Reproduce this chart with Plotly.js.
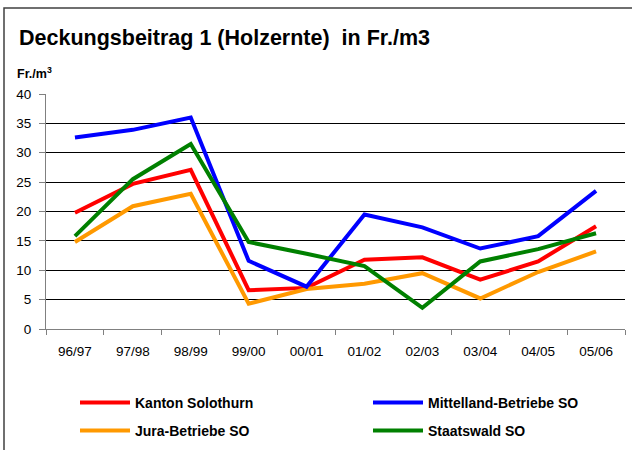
<!DOCTYPE html>
<html>
<head>
<meta charset="utf-8">
<script src="https://cdn.plot.ly/plotly-3.0.1.min.js"></script>
<style>
  html, body { margin: 0; padding: 0; background: #fff; }
  #chart { width: 632px; height: 450px; }
</style>
</head>
<body>
<div id="chart"></div>
<script>
const years = ["96/97","97/98","98/99","99/00","00/01","01/02","02/03","03/04","04/05","05/06"];
const kantonSolothurn = [19.8, 24.7, 27.1, 6.6, 7.0, 11.8, 12.2, 8.4, 11.5, 17.5];
const mittellandBetriebe = [32.6, 33.9, 36.0, 11.6, 7.2, 19.5, 17.3, 13.7, 15.8, 23.5];
const juraBetriebe = [14.8, 20.9, 23.0, 4.3, 6.8, 7.7, 9.5, 5.2, 9.7, 13.2];
const staatswald = [15.8, 25.5, 31.5, 14.8, 12.8, 10.7, 3.6, 11.5, 13.6, 16.3];
const yTicks = [0, 5, 10, 15, 20, 25, 30, 35, 40];

const L = 46, R = 7, T = 94, B = 121, W = 632, H = 450;
const pw = W - L - R, ph = H - T - B;
const px = x => (x - L) / pw;
const py = y => (H - B - y) / ph;

function tr(name, y, color, legend) {
  return {
    type: 'scatter', mode: 'lines', name: name, x: years, y: y,
    line: { color: color, width: 4 }, legend: legend
  };
}

const data = [
  tr('Kanton Solothurn', kantonSolothurn, '#FF0000', 'legend'),
  tr('Jura-Betriebe SO', juraBetriebe, '#FF9900', 'legend2'),
  tr('Mittelland-Betriebe SO', mittellandBetriebe, '#0000FF', 'legend3'),
  tr('Staatswald SO', staatswald, '#008000', 'legend4')
];

const legendFont = { family: 'Liberation Sans, Arial, sans-serif', size: 14, color: '#000', weight: 'bold' };
const legendBase = {
  orientation: 'h', xanchor: 'left', yanchor: 'middle',
  itemwidth: 50,
  font: legendFont, bgcolor: 'rgba(0,0,0,0)', borderwidth: 0,
  itemclick: false, itemdoubleclick: false
};
const col1 = 75, col2 = 368, row1 = 403, row2 = 431;

const layout = {
  width: W, height: H,
  margin: { l: L, r: R, t: T, b: B, pad: 0, autoexpand: false },
  paper_bgcolor: '#fff', plot_bgcolor: '#fff',
  font: { family: 'Liberation Sans, Arial, sans-serif', size: 13, color: '#000' },
  showlegend: true,
  title: {
    text: 'Deckungsbeitrag 1 (Holzernte) \u00a0in Fr./m3',
    font: { family: 'Liberation Sans, Arial, sans-serif', size: 21.5, color: '#000', weight: 'bold' },
    x: 19 / W, xanchor: 'left', xref: 'container',
    y: 1 - 37 / H, yanchor: 'middle', yref: 'container'
  },
  xaxis: {
    type: 'category', categoryorder: 'array', categoryarray: years,
    range: [-0.5, 9.5], fixedrange: true,
    showgrid: false, zeroline: false,
    showline: true, linecolor: '#808080', linewidth: 1,
    ticks: 'outside', tickson: 'boundaries', ticklen: 5, tickcolor: '#808080', tickwidth: 1,
    ticklabelstandoff: 10,
    tickfont: { size: 13.5, color: '#000' }
  },
  yaxis: {
    range: [0, 40], tickvals: yTicks, ticktext: yTicks.map(String), fixedrange: true,
    showgrid: true, gridcolor: '#000', gridwidth: 1, zeroline: false,
    showline: true, linecolor: '#808080', linewidth: 1,
    ticks: 'outside', ticklen: 6, tickcolor: '#808080', tickwidth: 1,
    ticklabelstandoff: 5,
    tickfont: { size: 13.5, color: '#000' }
  },
  legend: Object.assign({}, legendBase, { x: px(col1), y: py(row1) }),
  legend2: Object.assign({}, legendBase, { x: px(col1), y: py(row2) }),
  legend3: Object.assign({}, legendBase, { x: px(col2), y: py(row1) }),
  legend4: Object.assign({}, legendBase, { x: px(col2), y: py(row2) }),
  annotations: [{
    text: 'Fr./m<sup>3</sup>', xref: 'paper', yref: 'paper',
    x: px(15), y: py(73), xanchor: 'left', yanchor: 'middle', showarrow: false,
    font: { family: 'Liberation Sans, Arial, sans-serif', size: 12.5, color: '#000', weight: 'bold' }
  }],
  shapes: [{
    type: 'rect', xref: 'paper', yref: 'paper',
    x0: px(4), x1: px(660), y0: py(480), y1: py(8),
    line: { color: '#404040', width: 1.5 }, fillcolor: 'rgba(0,0,0,0)', layer: 'below'
  }]
};

Plotly.newPlot('chart', data, layout, { staticPlot: true, displayModeBar: false });
</script>
</body>
</html>
